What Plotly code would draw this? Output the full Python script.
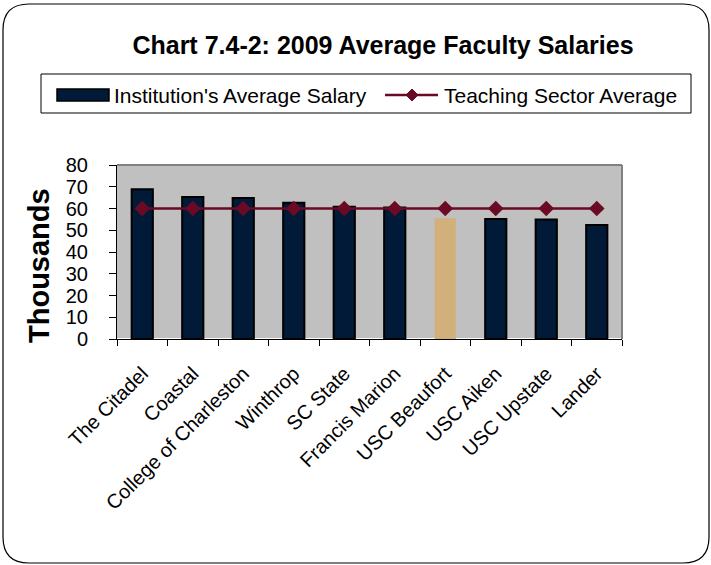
import plotly.graph_objects as go

categories = ["The Citadel", "Coastal", "College of Charleston", "Winthrop", "SC State",
              "Francis Marion", "USC Beaufort", "USC Aiken", "USC Upstate", "Lander"]
institution_avg = [68.8, 65.3, 64.8, 62.7, 60.8, 60.5, 55.5, 55.2, 54.9, 52.4]
sector_avg = [60, 60, 60, 60, 60, 60, 60, 60, 60, 60]
y_ticks = [0, 10, 20, 30, 40, 50, 60, 70, 80]
series_names = ["Institution's Average Salary", "Teaching Sector Average"]

W, H = 711, 565
NAVY = "#001A38"
TAN = "#D2B07C"
MAROON = "#6B0A24"

bar_colors = [TAN if c == "USC Beaufort" else NAVY for c in categories]
line_colors = ["rgba(0,0,0,0)" if c == "USC Beaufort" else "#000000" for c in categories]

def px(x):
    return x / W

def py(y):
    return 1 - y / H

fig = go.Figure()
fig.add_trace(go.Bar(
    x=categories, y=institution_avg, name=series_names[0],
    marker=dict(color=bar_colors, line=dict(color=line_colors, width=2)),
    width=0.42, showlegend=False,
))
fig.add_trace(go.Scatter(
    x=categories, y=sector_avg, name=series_names[1],
    mode="lines+markers",
    line=dict(color=MAROON, width=2.5),
    marker=dict(symbol="diamond", size=12, color=MAROON),
    showlegend=False,
))

# rounded outer border
x0, y0, x1, y1 = 3, 4, 709, 563
r = 26
rx, ry = r / W, r / H
X0, X1, Y0, Y1 = px(x0), px(x1), py(y1), py(y0)
path = (f"M {X0+rx},{Y1} L {X1-rx},{Y1} Q {X1},{Y1} {X1},{Y1-ry} "
        f"L {X1},{Y0+ry} Q {X1},{Y0} {X1-rx},{Y0} "
        f"L {X0+rx},{Y0} Q {X0},{Y0} {X0},{Y0+ry} "
        f"L {X0},{Y1-ry} Q {X0},{Y1} {X0+rx},{Y1} Z")

# diamond legend marker
dcx, dcy, dh = 412, 95, 6
diamond = (f"M {px(dcx-dh)},{py(dcy)} L {px(dcx)},{py(dcy-dh)} "
           f"L {px(dcx+dh)},{py(dcy)} L {px(dcx)},{py(dcy+dh)} Z")

shapes = [
    dict(type="path", xref="paper", yref="paper", path=path,
         line=dict(color="#000000", width=1.2), layer="below"),
    # legend box
    dict(type="rect", xref="paper", yref="paper",
         x0=px(41), x1=px(691), y0=py(113), y1=py(74),
         line=dict(color="#000000", width=1), fillcolor="white", layer="below"),
    # legend bar symbol
    dict(type="rect", xref="paper", yref="paper",
         x0=px(57), x1=px(109), y0=py(101), y1=py(89),
         line=dict(color="#000000", width=1.5), fillcolor=NAVY),
    # legend line symbol
    dict(type="line", xref="paper", yref="paper",
         x0=px(385), x1=px(438), y0=py(95), y1=py(95),
         line=dict(color=MAROON, width=2.5)),
    dict(type="path", xref="paper", yref="paper", path=diamond,
         line=dict(color=MAROON, width=1), fillcolor=MAROON),
    # plot area border top/right gray
    dict(type="line", xref="paper", yref="paper", x0=px(117), x1=px(622), y0=py(165), y1=py(165),
         line=dict(color="#808080", width=2)),
    dict(type="line", xref="paper", yref="paper", x0=px(622), x1=px(622), y0=py(165), y1=py(339),
         line=dict(color="#808080", width=2)),
]

annotations = [
    dict(text=series_names[0], xref="paper", yref="paper", x=px(112), y=py(95),
         xanchor="left", yanchor="middle", showarrow=False, font=dict(size=21)),
    dict(text=series_names[1], xref="paper", yref="paper", x=px(442), y=py(95),
         xanchor="left", yanchor="middle", showarrow=False, font=dict(size=21)),
    dict(text="<b>Thousands</b>", xref="paper", yref="paper", x=px(39), y=py(266),
         xanchor="center", yanchor="middle", showarrow=False, textangle=-90,
         font=dict(size=29)),
]

fig.update_layout(
    width=W, height=H,
    margin=dict(l=0, r=0, t=0, b=0, autoexpand=False),
    paper_bgcolor="white",
    plot_bgcolor="#C0C0C0",
    font=dict(family="Liberation Sans, Arial, sans-serif", color="#000000"),
    title=dict(text="<b>Chart 7.4-2: 2009 Average Faculty Salaries</b>",
               x=px(383), xanchor="center", y=py(45), yanchor="middle",
               font=dict(size=25, color="#000000")),
    showlegend=False,
    shapes=shapes,
    annotations=annotations,
    xaxis=dict(domain=[px(117), px(622)], showgrid=False, showline=True, automargin=False,
               linecolor="#000000", linewidth=1, ticks="outside", ticklen=6,
               tickcolor="#000000", tickson="boundaries", tickangle=-45,
               tickfont=dict(size=20), range=[-0.5, 9.5], ticklabelstandoff=14),
    yaxis=dict(domain=[py(339), py(165)], range=[0, 80], tickvals=y_ticks, automargin=False,
               showgrid=False, showline=True, linecolor="#000000", linewidth=1,
               ticks="outside", ticklen=7, tickcolor="#000000",
               tickfont=dict(size=20), ticklabelstandoff=17),
)

fig.write_html("out.html", config={"displayModeBar": False},
               post_script="document.body.style.margin='0';")
